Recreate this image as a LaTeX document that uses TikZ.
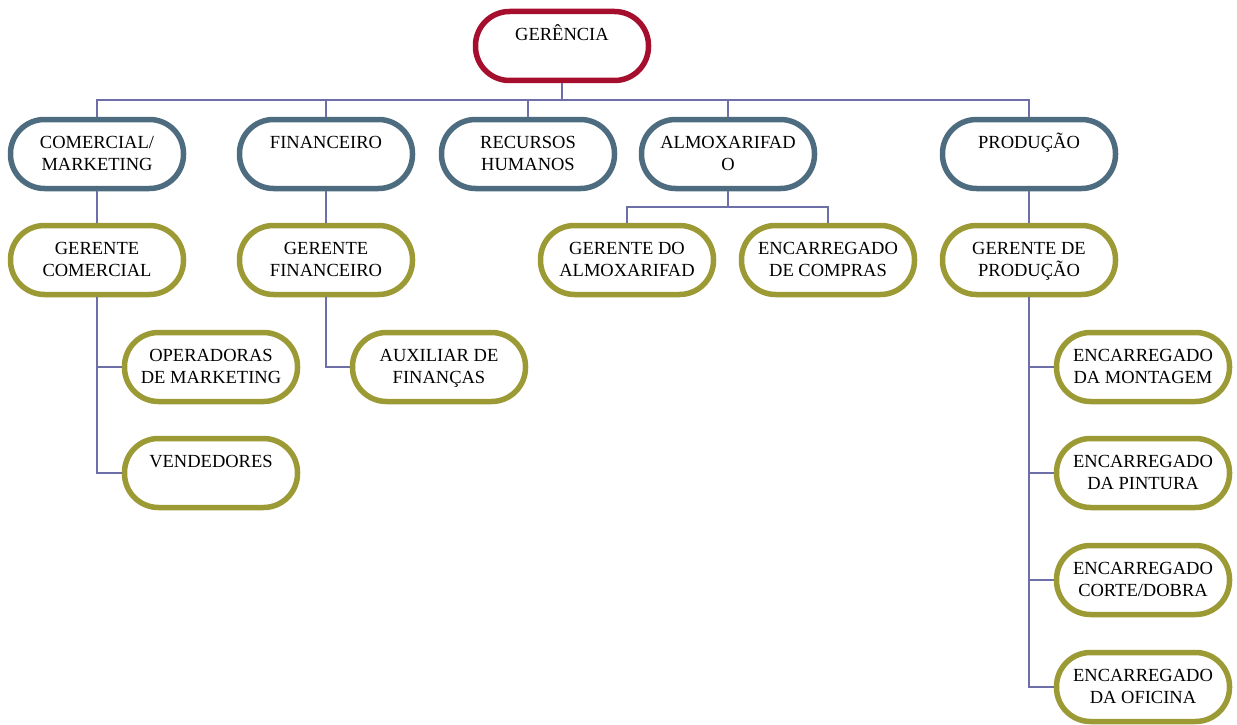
\documentclass[tikz,border=0pt]{standalone}
\usepackage{fontspec}
\setmainfont{Liberation Serif}
\definecolor{redbox}{HTML}{A50F2D}
\definecolor{bluebox}{HTML}{4E6C80}
\definecolor{olivebox}{HTML}{9C9A34}
\definecolor{linec}{HTML}{6E6EA8}
\newcommand{\mystrut}{\rule[-5.9pt]{0pt}{22pt}}
\newcommand{\tl}[2]{\mystrut #1\\\mystrut #2}
\begin{document}
\begin{tikzpicture}[x=1pt,y=-1pt,
  box/.style={draw, line width=5.5pt, fill=white, rounded corners=34pt,
    minimum width=173pt, minimum height=69pt, inner sep=0pt, align=center,
    font=\fontsize{18.5}{22}\selectfont},
  topbox/.style={box, draw=redbox},
  deptbox/.style={box, draw=bluebox},
  subbox/.style={box, draw=olivebox},
  conn/.style={draw=linec, line width=2pt}]
\useasboundingbox (0,0) rectangle (1237,725);
\coordinate (bus1) at (0,100);
\coordinate (bus2) at (0,207);
% nodes
\node[topbox]  (ger) at (562,46)  {\tl{GERÊNCIA}{}};
\node[deptbox] (com) at (97,154)  {\tl{COMERCIAL/}{MARKETING}};
\node[deptbox] (fin) at (326,154) {\tl{FINANCEIRO}{}};
\node[deptbox] (rh)  at (528,154) {\tl{RECURSOS}{HUMANOS}};
\node[deptbox] (alm) at (728,154) {\tl{ALMOXARIFAD}{O}};
\node[deptbox] (pro) at (1029,154) {\tl{PRODUÇÃO}{}};
\node[subbox] (gcom) at (97,260)  {\tl{GERENTE}{COMERCIAL}};
\node[subbox] (gfin) at (326,260) {\tl{GERENTE}{FINANCEIRO}};
\node[subbox] (galm) at (627,260) {\tl{GERENTE DO}{ALMOXARIFAD}};
\node[subbox] (ecom) at (828,260) {\tl{ENCARREGADO}{DE COMPRAS}};
\node[subbox] (gpro) at (1029,260) {\tl{GERENTE DE}{PRODUÇÃO}};
\node[subbox] (opm) at (211,367) {\tl{OPERADORAS}{DE MARKETING}};
\node[subbox] (ven) at (211,473) {\tl{VENDEDORES}{}};
\node[subbox] (aux) at (439,367) {\tl{AUXILIAR DE}{FINANÇAS}};
\node[subbox] (emo) at (1143,367) {\tl{ENCARREGADO}{DA MONTAGEM}};
\node[subbox] (epi) at (1143,473) {\tl{ENCARREGADO}{DA PINTURA}};
\node[subbox] (eco) at (1143,580) {\tl{ENCARREGADO}{CORTE/DOBRA}};
\node[subbox] (eof) at (1143,687) {\tl{ENCARREGADO}{DA OFICINA}};
% connectors
\foreach \c in {com,fin,rh,alm,pro}
  \draw[conn] (ger.south) -- (ger.south |- bus1) -| (\c.north);
\draw[conn] (com.south) -- (gcom.north);
\draw[conn] (fin.south) -- (gfin.north);
\draw[conn] (pro.south) -- (gpro.north);
\foreach \c in {galm,ecom}
  \draw[conn] (alm.south) -- (alm.south |- bus2) -| (\c.north);
\foreach \c in {opm,ven}
  \draw[conn] (gcom.south) |- (\c.west);
\draw[conn] (gfin.south) |- (aux.west);
\foreach \c in {emo,epi,eco,eof}
  \draw[conn] (gpro.south) |- (\c.west);
\end{tikzpicture}
\end{document}
